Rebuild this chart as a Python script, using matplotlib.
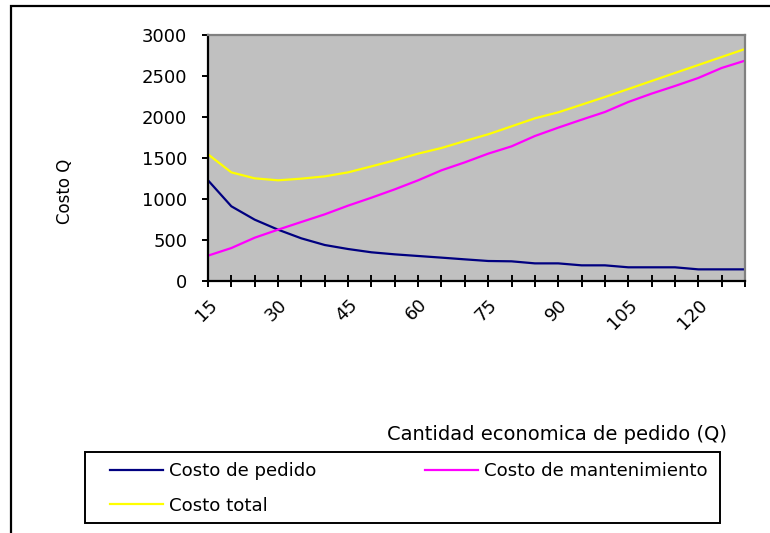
import matplotlib
matplotlib.use("Agg")
import matplotlib.pyplot as plt
from matplotlib.patches import Rectangle

plt.rcParams['font.family'] = ['DejaVu Sans']

# Order quantity Q (categories on the x axis)
cantidad_q = [15, 20, 25, 30, 35, 40, 45, 50, 55, 60, 65, 70,
              75, 80, 85, 90, 95, 100, 105, 110, 115, 120, 125, 130]

costo_pedido = [1228, 911, 748, 626, 520, 439, 390, 350, 325, 305, 285, 264,
                244, 240, 215, 215, 191, 191, 167, 167, 167, 142, 142, 142]

costo_mantenimiento = [309, 402, 528, 626, 720, 813, 919, 1016, 1118, 1228, 1350, 1447,
                       1553, 1642, 1768, 1870, 1967, 2061, 2183, 2285, 2378, 2476, 2598, 2687]

costo_total = [1545, 1325, 1252, 1228, 1248, 1276, 1325, 1398, 1472, 1553, 1622, 1707,
               1789, 1886, 1984, 2057, 2150, 2244, 2341, 2439, 2537, 2634, 2732, 2829]

y_ticks = [0, 500, 1000, 1500, 2000, 2500, 3000]
label_every = 3

W, H = 770, 533
fig = plt.figure(figsize=(W / 100, H / 100), dpi=100)
fig.patch.set_facecolor('white')

# outer chart border (left and top edges visible)
fig.add_artist(Rectangle((11 / W, -0.05), 1.1, 1 - 6 / H + 0.05,
                         transform=fig.transFigure, fill=False,
                         edgecolor='black', linewidth=1.6))

ax = fig.add_axes([208 / W, 1 - 281 / H, 537 / W, 246 / H])
ax.set_facecolor('#C0C0C0')

x = list(range(len(cantidad_q)))
l1, = ax.plot(x, costo_pedido, color='#000080', lw=1.6, label='Costo de pedido')
l2, = ax.plot(x, costo_mantenimiento, color='#FF00FF', lw=1.6, label='Costo de mantenimiento')
l3, = ax.plot(x, costo_total, color='#FFFF00', lw=1.6, label='Costo total')

ax.set_xlim(0, len(cantidad_q) - 1)
ax.set_ylim(0, 3000)

for side in ('top', 'right'):
    ax.spines[side].set_color('#808080')
    ax.spines[side].set_linewidth(1.6)
for side in ('left', 'bottom'):
    ax.spines[side].set_color('black')
    ax.spines[side].set_linewidth(1.6)

ax.set_yticks(y_ticks)
ax.set_yticklabels([str(v) for v in y_ticks])
ax.tick_params(axis='y', direction='out', length=4, width=1.4, pad=11,
               labelsize=13, colors='black')

ax.set_xticks(x)
ax.set_xticklabels([str(q) if i % label_every == 0 else '' for i, q in enumerate(cantidad_q)],
                   rotation=45, ha='right', va='top', rotation_mode='anchor')
ax.tick_params(axis='x', direction='inout', length=9, width=1.4, pad=6,
               labelsize=13, colors='black')

fig.text(65 / W, 1 - 191 / H, 'Costo Q', rotation=90, ha='center', va='center',
         fontsize=12)
fig.text(557 / W, 1 - 434 / H, 'Cantidad economica de pedido (Q)', ha='center',
         va='center', fontsize=14)

# legend box
fig.add_artist(Rectangle((85 / W, 1 - 523 / H), 635 / W, 71 / H,
                         transform=fig.transFigure, fill=False,
                         edgecolor='black', linewidth=1.4))
leg = ax.legend(handles=[l1, l3, l2], ncol=2, loc='upper left',
                bbox_to_anchor=(110 / W, 1 - 462 / H),
                bbox_transform=fig.transFigure, fontsize=13.1,
                handlelength=2.9, handletextpad=0.33, labelspacing=0.92,
                columnspacing=6.0, borderpad=0, borderaxespad=0, frameon=False)

fig.savefig('out.png', dpi=100)
